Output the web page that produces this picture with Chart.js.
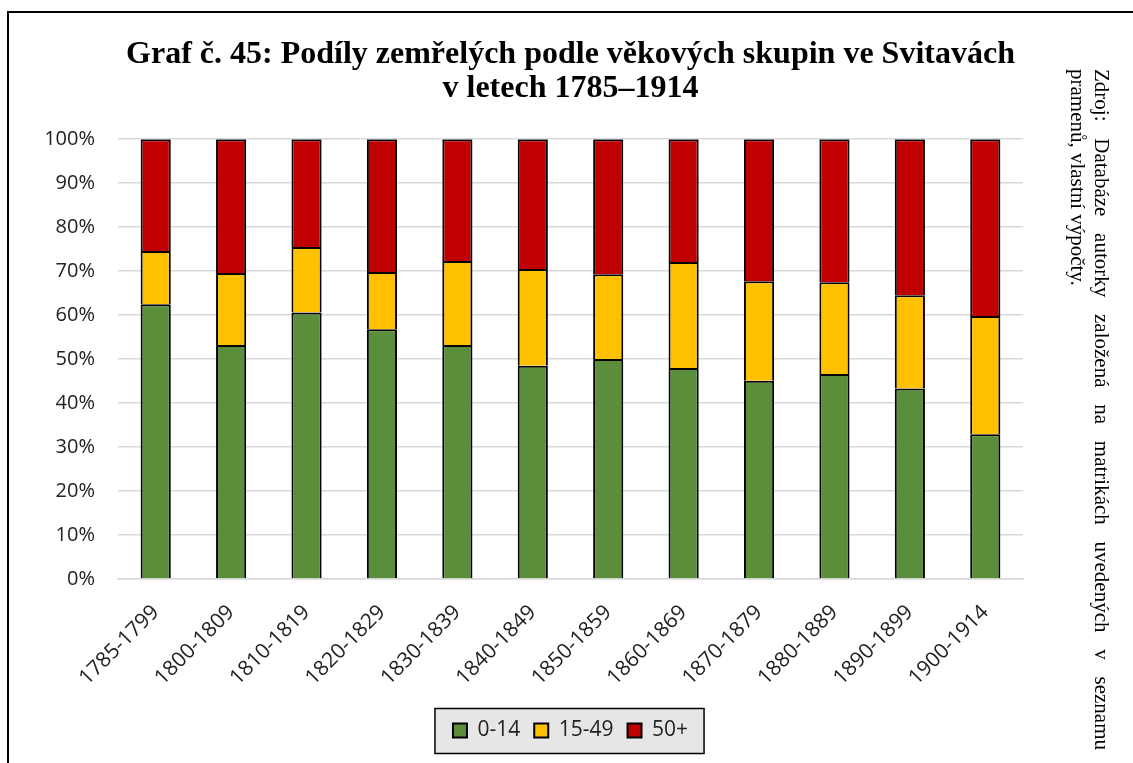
<!DOCTYPE html>
<html>
<head>
<meta charset="utf-8">
<script src="https://cdn.jsdelivr.net/npm/chart.js@4.4.0/dist/chart.umd.min.js"></script>
<style>
  html, body { margin: 0; padding: 0; background: #fff; }
  #wrap { position: relative; width: 1133px; height: 763px; overflow: hidden; }
  #frame { position: absolute; left: 7px; top: 11px; right: -5px; bottom: -5px; border-left: 2px solid #000; border-top: 2px solid #000; }
  #chart { position: absolute; left: 0; top: 0; }
  #source { position: absolute; left: 1066px; top: 69px; height: 681px; width: 48px; writing-mode: vertical-rl;
            font-family: 'Liberation Serif', serif; font-size: 21px; line-height: 24px; color: #000; }
  #source .l1 { text-align: justify; text-align-last: justify; }
</style>
</head>
<body>
<div id="wrap">
  <div id="frame"></div>
  <canvas id="chart" width="1133" height="763"></canvas>
  <div id="source">
    <div class="l1">Zdroj: Databáze autorky založená na matrikách uvedených v seznamu</div>
    <div>pramenů, vlastní výpočty.</div>
  </div>
</div>
<script>
const categories = ['1785-1799', '1800-1809', '1810-1819', '1820-1829', '1830-1839', '1840-1849',
                    '1850-1859', '1860-1869', '1870-1879', '1880-1889', '1890-1899', '1900-1914'];
// shares in percent
const age0to14  = [62.5, 53.2, 60.6, 56.8, 53.2, 48.5, 50.0, 48.0, 45.1, 46.6, 43.3, 32.9];
const age15to49 = [12.1, 16.4, 14.9, 13.0, 19.1, 22.0, 19.3, 24.1, 22.6, 20.9, 21.2, 26.9];
const age50plus = [25.4, 30.4, 24.5, 30.2, 27.7, 29.5, 30.7, 27.9, 32.3, 32.5, 35.5, 40.2];
const seriesNames = ['0-14', '15-49', '50+'];
const titleLines = ['Graf č. 45: Podíly zemřelých podle věkových skupin ve Svitavách', 'v letech 1785–1914'];

const textColor = '#222';
const tickFont = { family: "'Open Sans', sans-serif", size: 20 };
const catFont = { family: "'Open Sans', sans-serif", size: 21 };

// grey box behind the legend items
const legendBox = {
  id: 'legendBox',
  beforeDraw(chart) {
    const hb = chart.legend && chart.legend.legendHitBoxes;
    if (!hb || !hb.length) return;
    const left = Math.min(...hb.map(h => h.left));
    const right = Math.max(...hb.map(h => h.left + h.width));
    const cy = hb[0].top + hb[0].height / 2;
    const ctx = chart.ctx;
    ctx.save();
    ctx.fillStyle = '#e7e6e6';
    ctx.strokeStyle = '#000';
    ctx.lineWidth = 1.5;
    ctx.fillRect(left - 18, cy - 22, right - left + 34, 45);
    ctx.strokeRect(left - 18, cy - 22, right - left + 34, 45);
    ctx.restore();
  }
};

function barSet(label, data, color) {
  return {
    label: label,
    data: data,
    backgroundColor: color,
    borderColor: '#000',
    borderWidth: 2,
    borderSkipped: 'start',
    barPercentage: 0.4,
    categoryPercentage: 1
  };
}

new Chart(document.getElementById('chart'), {
  type: 'bar',
  data: {
    labels: categories,
    datasets: [
      barSet(seriesNames[0], age0to14, '#5b8e3a'),
      barSet(seriesNames[1], age15to49, '#ffc000'),
      barSet(seriesNames[2], age50plus, '#c00000')
    ]
  },
  plugins: [legendBox],
  options: {
    responsive: false,
    animation: false,
    layout: { padding: { left: 30, right: 110, top: 0, bottom: 12 } },
    plugins: {
      title: {
        display: true,
        text: titleLines,
        color: '#000',
        fullSize: false,
        font: { family: "'Liberation Serif', serif", size: 32, weight: 'bold', lineHeight: 1.05 },
        padding: { top: 38, bottom: 34 }
      },
      legend: {
        position: 'bottom',
        fullSize: false,
        labels: {
          color: textColor,
          font: catFont,
          boxWidth: 14,
          boxHeight: 14,
          padding: 14
        }
      },
      tooltip: { enabled: false }
    },
    scales: {
      x: {
        stacked: true,
        grid: { display: false },
        border: { color: '#d9d9d9', width: 1.5 },
        ticks: { color: textColor, font: catFont, minRotation: 45, maxRotation: 45, autoSkip: false, padding: 13 },
        afterFit(scale) { scale.height = 127; }
      },
      y: {
        stacked: true,
        min: 0,
        max: 100,
        grid: { color: '#d9d9d9', lineWidth: 1.5, drawTicks: false },
        border: { display: false },
        ticks: { color: textColor, font: tickFont, stepSize: 10, padding: 23, callback: v => v + '%' },
        afterFit(scale) { scale.width = 88; }
      }
    }
  }
});
</script>
</body>
</html>
